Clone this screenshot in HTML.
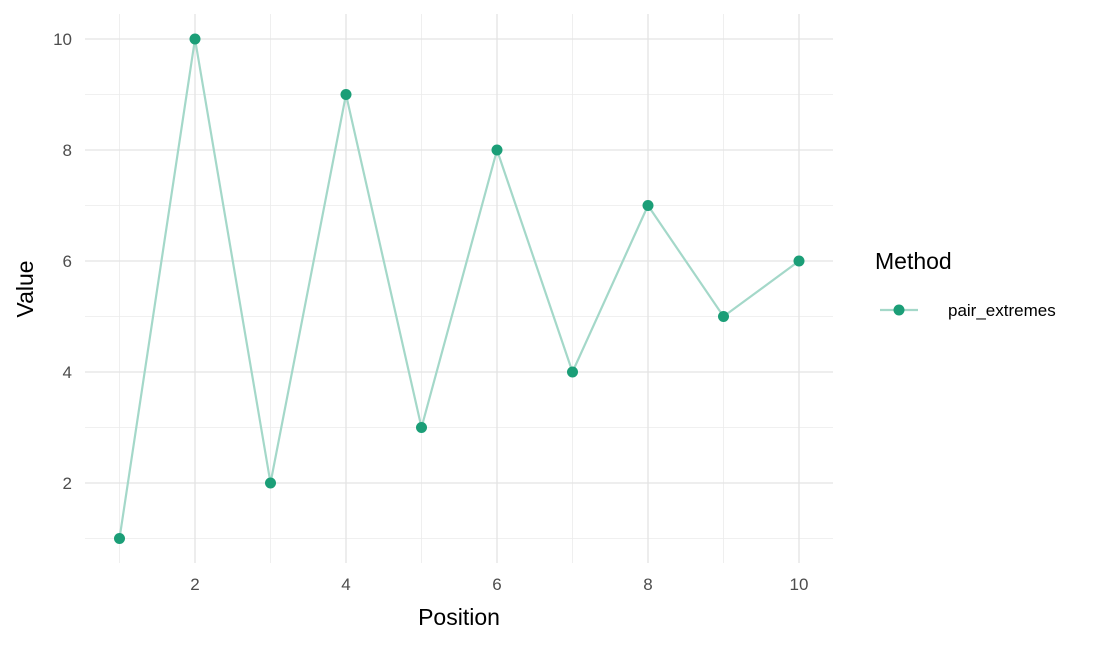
<!DOCTYPE html>
<html><head><style>
body{margin:0;background:#fff;}
svg text{font-family:"Liberation Sans",Arial,sans-serif;}
</style></head><body>
<svg width="1104" height="644" viewBox="0 0 1104 644" xmlns="http://www.w3.org/2000/svg">
<rect width="1104" height="644" fill="#fff"/>
<g stroke="#ebebeb" stroke-width="0.8">
<line x1="85" x2="833" y1="538.5" y2="538.5"/>
<line x1="85" x2="833" y1="427.5" y2="427.5"/>
<line x1="85" x2="833" y1="316.5" y2="316.5"/>
<line x1="85" x2="833" y1="205.5" y2="205.5"/>
<line x1="85" x2="833" y1="94.5" y2="94.5"/>
<line y1="14" y2="563" x1="119.5" x2="119.5"/>
<line y1="14" y2="563" x1="270.5" x2="270.5"/>
<line y1="14" y2="563" x1="421.5" x2="421.5"/>
<line y1="14" y2="563" x1="572.5" x2="572.5"/>
<line y1="14" y2="563" x1="723.5" x2="723.5"/>
</g>
<g stroke="#e3e3e3" stroke-width="1.3">
<line x1="85" x2="833" y1="483" y2="483"/>
<line x1="85" x2="833" y1="372" y2="372"/>
<line x1="85" x2="833" y1="261" y2="261"/>
<line x1="85" x2="833" y1="150" y2="150"/>
<line x1="85" x2="833" y1="39" y2="39"/>
<line y1="14" y2="563" x1="195" x2="195"/>
<line y1="14" y2="563" x1="346" x2="346"/>
<line y1="14" y2="563" x1="497" x2="497"/>
<line y1="14" y2="563" x1="648" x2="648"/>
<line y1="14" y2="563" x1="799" x2="799"/>
</g>
<polyline fill="none" stroke="#a4d8c9" stroke-width="2.2" points="119.5,538.5 195,39 270.5,483 346,94.5 421.5,427.5 497,150 572.5,372 648,205.5 723.5,316.5 799,261"/>
<g fill="#1b9e77">
<circle cx="119.5" cy="538.5" r="5.5"/><circle cx="195" cy="39" r="5.5"/><circle cx="270.5" cy="483" r="5.5"/><circle cx="346" cy="94.5" r="5.5"/><circle cx="421.5" cy="427.5" r="5.5"/><circle cx="497" cy="150" r="5.5"/><circle cx="572.5" cy="372" r="5.5"/><circle cx="648" cy="205.5" r="5.5"/><circle cx="723.5" cy="316.5" r="5.5"/><circle cx="799" cy="261" r="5.5"/>
</g>
<g fill="#4d4d4d" font-size="17" text-anchor="end">
<text x="72" y="45">10</text><text x="72" y="156">8</text><text x="72" y="267">6</text><text x="72" y="378">4</text><text x="72" y="489">2</text>
</g>
<g fill="#4d4d4d" font-size="17" text-anchor="middle">
<text x="195" y="590">2</text><text x="346" y="590">4</text><text x="497" y="590">6</text><text x="648" y="590">8</text><text x="799" y="590">10</text>
</g>
<text x="459" y="625" font-size="23" text-anchor="middle" fill="#000">Position</text>
<text transform="translate(33,289) rotate(-90)" font-size="23" text-anchor="middle" fill="#000">Value</text>
<text x="875" y="269" font-size="23" fill="#000">Method</text>
<line x1="880" x2="918" y1="310" y2="310" stroke="#a4d8c9" stroke-width="2.2"/>
<circle cx="899" cy="310" r="5.5" fill="#1b9e77"/>
<text x="948" y="316" font-size="17" fill="#000">pair_extremes</text>
</svg>
</body></html>
